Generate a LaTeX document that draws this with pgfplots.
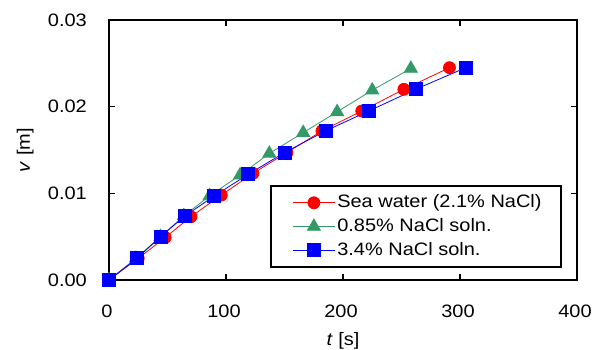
\documentclass[border=0pt]{standalone}
\usepackage{pgfplots}
\pgfplotsset{compat=1.18}
\usepackage{fontspec}
\setmainfont{Liberation Sans}[FakeStretch=1.11]
\definecolor{sgreen}{RGB}{51,153,102}
\begin{document}
\fontsize{18pt}{21pt}\selectfont
\begin{tikzpicture}
\begin{axis}[
  scale only axis,
  width=468pt, height=260pt,
  xmin=0, xmax=400, ymin=0, ymax=0.03,
  scaled y ticks=false,
  xtick={0,100,200,300,400},
  ytick={0,0.01,0.02,0.03},
  yticklabels={0.00,0.01,0.02,0.03},
  xticklabels={0,100,200,300,400},
  tick align=inside,
  xtick pos=both, ytick pos=both,
  major tick length=6pt,
  tick style={black, line width=1.5pt},
  axis line style={black, line width=1.8pt},
  every axis plot/.append style={line width=0.8pt},
  xticklabel style={yshift=-19pt, xshift=-2pt},
  yticklabel style={xshift=-16pt},
  xlabel={\textit{t} [s]},
  ylabel={\textit{v} [m]},
  xlabel style={yshift=-2pt},
  ylabel style={yshift=2pt},
  legend cell align=left,
  legend style={at={(0.968,0.046)}, anchor=south east, draw=black, line width=1.8pt,
    inner xsep=17.5pt, inner ysep=7pt, row sep=4pt,
    font=\fontsize{18pt}{21pt}\selectfont,
    nodes={inner sep=2pt}},
  legend image code/.code={\path (-4pt,0pt); \draw[mark repeat=2,mark phase=2,#1,line width=0.8pt] plot coordinates {(0pt,0pt) (21pt,0pt) (42pt,0pt)};},
]
\addplot[red, mark=*, mark size=6pt, mark options={fill=red, draw=red}] coordinates {
(0,0) (25,0.0025) (48,0.0049) (70,0.0073) (96,0.0098) (123,0.0123) (152,0.0147) (182,0.0172) (216,0.0195) (252,0.0220) (291,0.0245)};
\addlegendentry{Sea water (2.1\% NaCl)}
\addplot[sgreen, mark=triangle*, mark size=7.5pt, mark options={fill=sgreen, draw=sgreen}] coordinates {
(0,0) (23,0.0025) (44,0.0050) (64,0.0074) (86,0.0097) (112,0.0121) (137,0.0146) (166,0.0170) (195,0.0194) (225,0.0219) (258,0.0244)};
\addlegendentry{0.85\% NaCl soln.}
\addplot[blue, mark=square*, mark size=6.5pt, mark options={fill=blue, draw=blue}] coordinates {
(0,0) (24,0.0025) (44,0.0050) (65,0.0074) (90,0.0097) (119,0.0122) (150,0.0147) (185,0.0172) (222,0.0195) (262,0.0220) (305,0.0245)};
\addlegendentry{3.4\% NaCl soln.}
\end{axis}
\pgfresetboundingbox
\path (-109pt,-70pt) rectangle (485pt,280pt);
\end{tikzpicture}
\end{document}
